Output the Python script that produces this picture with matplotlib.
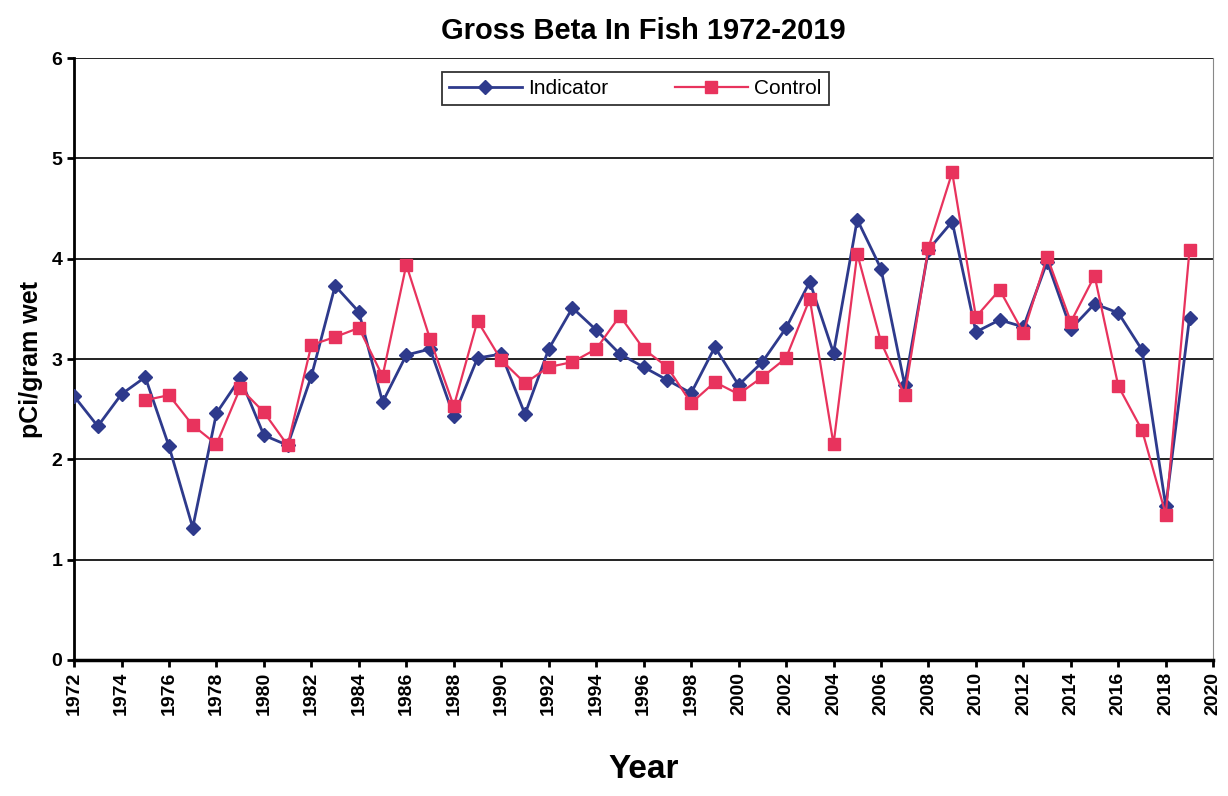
import matplotlib
matplotlib.use('Agg')
import matplotlib.pyplot as plt

plt.rcParams['font.family'] = ['Liberation Sans', 'DejaVu Sans']

years = list(range(1972, 2020))
indicator = [2.63, 2.33, 2.65, 2.82, 2.13, 1.32, 2.46, 2.81, 2.24, 2.14,
             2.83, 3.73, 3.47, 2.57, 3.04, 3.10, 2.43, 3.01, 3.05, 2.45,
             3.10, 3.51, 3.29, 3.05, 2.92, 2.79, 2.66, 3.12, 2.74, 2.97,
             3.31, 3.77, 3.06, 4.39, 3.90, 2.74, 4.09, 4.37, 3.27, 3.39,
             3.32, 3.97, 3.30, 3.55, 3.46, 3.09, 1.53, 3.41]
control_years = list(range(1975, 2020))
control = [2.59, 2.64, 2.34, 2.15, 2.71, 2.47, 2.14, 3.14, 3.22, 3.31,
           2.83, 3.94, 3.20, 2.53, 3.38, 2.99, 2.76, 2.92, 2.97, 3.10,
           3.43, 3.10, 2.92, 2.56, 2.77, 2.65, 2.82, 3.01, 3.60, 2.15,
           4.05, 3.17, 2.64, 4.11, 4.86, 3.42, 3.69, 3.26, 4.02, 3.37,
           3.83, 2.73, 2.29, 1.45, 4.09]

blue = '#2e3a8c'
red = '#e8335d'

fig = plt.figure(figsize=(12.28, 7.96), dpi=100)
ax = fig.add_axes([0.0603, 0.1709, 0.9277, 0.7561])

ax.plot(years, indicator, color=blue, lw=2, marker='D', ms=7, label='Indicator', zorder=3)
ax.plot(control_years, control, color=red, lw=1.6, marker='s', ms=8, label='Control', zorder=4)

ax.set_xlim(1972, 2020)
ax.set_ylim(0, 6)
ax.set_xticks(range(1972, 2021, 2))
ax.set_yticks(range(0, 7))
ax.yaxis.grid(True, color='#222222', lw=1.4)
ax.set_axisbelow(True)

ax.spines['top'].set_visible(False)
ax.spines['right'].set_color('#888888')
ax.spines['left'].set_linewidth(2)
ax.spines['bottom'].set_linewidth(2.5)

ax.tick_params(axis='x', rotation=90, labelsize=14, width=2, length=5)
ax.tick_params(axis='y', labelsize=14, width=2, length=5)
for lab in ax.get_xticklabels() + ax.get_yticklabels():
    lab.set_fontweight('bold')

ax.set_title('Gross Beta In Fish 1972-2019', fontsize=21, fontweight='bold', pad=14)
ax.set_ylabel('pCi/gram wet', fontsize=18, fontweight='bold', labelpad=6)
ax.set_xlabel('Year', fontsize=24, fontweight='bold', labelpad=28)

leg = ax.legend(loc='upper center', bbox_to_anchor=(0.4925, 0.984), ncol=2,
                fancybox=False, edgecolor='black', fontsize=15,
                columnspacing=3.2, handlelength=3.5, handletextpad=0.3,
                borderpad=0.35, borderaxespad=0.2)
leg.get_frame().set_linewidth(1.3)

fig.savefig('out.png', dpi=100)
